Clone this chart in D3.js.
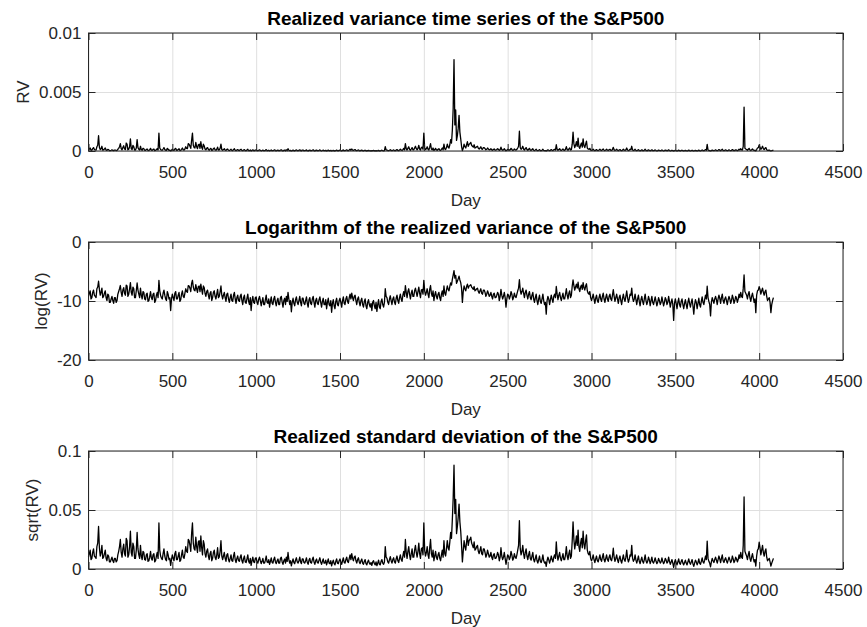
<!DOCTYPE html>
<html>
<head>
<meta charset="utf-8">
<script src="https://cdn.jsdelivr.net/npm/d3@7"></script>
<style>
  body { margin: 0; background: #fff; }
  svg { display: block; font-family: "Liberation Sans", Arial, sans-serif; }
</style>
</head>
<body>
<svg id="chart" width="867" height="627"></svg>
<script>
// sqrt(RV) of the S&P500, in thousandths.
// sdXXXX: readings on days 0, 10, 20, ... ; midXXXX: readings on days 5, 15, 25, ...
const sd0000 = [10,16,9,17,10,19,36,11,20,10, 16,7,11,6,10,5.5,9,7,15,25, 10,21,11,24,12,32,11,19,9,31, 12,20,8,14,7.5,13,7,15,7.5,13, 7,14,39,11,8,17,8,15,8,3];
const sd0500 = [12,7,15,8,14,7.5,16,9,19,14, 24,15,39,17,27,14,24,28,12,21, 10,17,8,15,9,16,8,18,10,24, 8,14,6.5,13,6,12,6.5,14,5.5,11, 6.5,12,5,11,5.5,12,5,3,10,5.5];
const sd1000 = [9.5,5,10,4.5,9,5,11,5.5,4,9.5, 5,10,4.5,8.5,5,10,4,8.5,10,14, 5,2.7,8.5,4.5,9.5,5,10,4.5,8.5,5, 9.5,4,9,5,10,4,8.5,5,9.5,4, 8.5,5,3.5,8.5,4.5,2.6,7.5,3.5,8.5,4.5];
const sd1500 = [8.5,4,9.5,5,10,5.5,12,13,7,11, 5,9.5,4.5,8.5,4,8,3.5,7.5,4,3, 7,3.5,2.8,7.5,3.5,8,4,19,9,5, 10.5,5,9.5,5,11,5.5,12,6.5,15,25, 9,19,8,17,10,20,10,22,9,18];
const sd2000 = [39,11,19,9,25,10,7,15,8,14, 7,16,24,11,24,16,31,42,88,59, 36,55,32,6,24,16,28,24,27,20, 23,17,20,13,19,12,17,10,16,10, 14,8,13,9,14,7,18,8,14,4];
const sd2500 = [12,8,15,7.5,13,9,16,41,12,20, 9,17,8,15,7.5,14,6,12,5,11, 5.5,12,5,2.2,10,5,11,6,12,23, 7.5,14,7,13,8,19,8,16,11,40, 17,28,33,15,26,32,17,29,13,15];
const sd3000 = [7,12,5.5,11,6,12,6.5,13,6,12, 6.5,12,7,17.6,6.5,12,5.5,11,5,12, 6.5,16,6,12,20,6.5,12,5,11,4.5, 10,5,12,5,10,4.5,10,5,9.5,4.5, 9,5,9.5,4.5,9,5,10,4,8,1.3];
const sd3500 = [8,3.5,8.5,4,8,3.5,7.5,3.5,8.5,4, 8,2.2,7.5,3.5,8.5,4,9.5,5,11,23.6, 6.5,1.9,9,5.5,10,5,11,5.5,12,5.5, 9.5,5,10,5.5,11,5.5,10,6,12,14, 9,61,13,8,15,6.5,13,6,2.5,16];
const sd4000 = [22.7,12,20,11,17,7,9,2.5,7];

const mid0000 = [13,8,14,11,9,22,18,14,9,13, 9,12,6,8,7,9,6,12,19,14, 17,13,26,10,19,14,22,9,16,17, 9,11,15,8,12,6.5,10,9,12,6, 11,9,16,9,13,11,7,12,9,8];
const mid0500 = [9,13,8,11,6.5,12,10,13,15,25, 20,30,22,16,19,23,15,18,24,13, 15,11,13,7,14,10,12,9,15,11, 11,9,12,8,9,7,11,8,9,7, 10,7,9,6,8.5,6.5,9,7,6,9];
const mid1000 = [6,8,7,6.5,5,7.5,6,8,6.5,5.5, 8,6,7,5,9,6,7,5,6.5,8, 7,6,5.5,7.5,6,7,6,8.5,5.5,7, 5.5,7.5,5.5,8,6,7,5.5,7.5,6,6.5, 5,7.5,6,5,7,5.5,4.5,6.5,5,7];
const mid1500 = [6,7,5.5,8,6.5,9,8,9,10,7, 8,6,7,5,6.5,4.5,6,5,5.5,6, 4.5,6,5,4,6.5,5,6,10,6,8, 7,8,6,8.5,7,9,8,11,10,14, 15,12,13,10,16,14,15,13,17,12];
const mid2000 = [16,14,12,18,13,16,11,10,12,9, 12,10,13,17,18,23,26,60,47,30, 44,40,20,15,19,23,20,25,22,18, 16,19,15,16,13,17,14,12,13,11, 10,12,9,11,12,10,11,10,9,8];
const mid2500 = [11,10,12,9,10,12,20,17,15,13, 14,11,12,9,11,8,9,7,8,6.5, 8,7,6,7,8,7.5,8,10,9,12, 11,9,10,8,12,11,13,9,24,25, 22,20,19,22,18,21,24,16,12,9];
const mid3000 = [9,8,8.5,7,9,8,10,8,9,8, 10,8,11,10,9,8,9,7,8.5,8, 10,9,8,11,9,8,7.5,8,6.5,7.5, 6.5,8,7,6.5,7.5,7,6,7,6.5,6, 7,6,6.5,6,7.5,6,6.5,6,5,5.5];
const mid3500 = [5.5,6,5,6.5,5,5.5,5,6,5.5,6, 4.5,5,6,5.5,5,6.5,6,7.5,8,9, 5,6,7,8,7.5,8,8.5,9,7,8, 7,7.5,8,7,8.5,7,8.5,8,9,10, 20,15,11,12,9,10,9,8,11,17];
const mid4000 = [18,16,14,15,10,8,6,5,9];

const xTicks = [0,500,1000,1500,2000,2500,3000,3500,4000,4500];
const titles = ["Realized variance time series of the S&P500",
                "Logarithm of the realized variance of the S&P500",
                "Realized standard deviation of the S&P500"];
const yLabels = ["RV", "log(RV)", "sqrt(RV)"];
const yTicksRV = [0, 0.005, 0.01];
const yTicksLog = [-20, -10, 0];
const yTicksSd = [0, 0.05, 0.1];

const sdMain = [].concat(sd0000, sd0500, sd1000, sd1500, sd2000, sd2500, sd3000, sd3500, sd4000);
const sdMid = [].concat(mid0000, mid0500, mid1000, mid1500, mid2000, mid2500, mid3000, mid3500, mid4000);
const data = [];
sdMain.forEach((v, i) => {
  data.push({ day: i * 10, sd: v / 1000 });
  if (i < sdMid.length) data.push({ day: i * 10 + 5, sd: sdMid[i] / 1000 });
});

// the three panels show the same series: RV, log(RV) and sqrt(RV)
const panels = [
  { domain: [0, 0.01], ticks: yTicksRV, val: d => d.sd * d.sd },
  { domain: [-20, 0], ticks: yTicksLog, val: d => Math.log(d.sd * d.sd) },
  { domain: [0, 0.1], ticks: yTicksSd, val: d => d.sd }
];

const left = 88.5, right = 843, h = 118;
const tops = [33, 242, 451];
const w = right - left;
const axisCol = "#262626";

const svg = d3.select("#chart");

panels.forEach((p, k) => {
  const g = svg.append("g").attr("transform", "translate(" + left + "," + tops[k] + ")");
  const x = d3.scaleLinear().domain([0, 4500]).range([0, w]);
  const y = d3.scaleLinear().domain(p.domain).range([h, 0]);

  // grid
  g.append("g")
    .attr("transform", "translate(0," + h + ")")
    .call(d3.axisBottom(x).tickValues(xTicks).tickSize(-h).tickFormat(""))
    .call(s => s.select(".domain").remove())
    .selectAll("line").attr("stroke", "#dfdfdf");
  g.append("g")
    .call(d3.axisLeft(y).tickValues(p.ticks).tickSize(-w).tickFormat(""))
    .call(s => s.select(".domain").remove())
    .selectAll("line").attr("stroke", "#dfdfdf");

  // series
  const line = d3.line().x(d => x(d.day)).y(d => y(p.val(d)));
  g.append("path")
    .datum(data)
    .attr("d", line)
    .attr("fill", "none")
    .attr("stroke", "#000")
    .attr("stroke-width", 1.3)
    .attr("stroke-linejoin", "round");

  // box
  g.append("rect")
    .attr("width", w).attr("height", h)
    .attr("fill", "none").attr("stroke", axisCol).attr("stroke-width", 1);

  const styleAxis = s => {
    s.select(".domain").remove();
    s.selectAll("line").attr("stroke", axisCol);
    s.selectAll("text").attr("fill", axisCol).style("font-size", "17px")
      .style("font-family", '"Liberation Sans", Arial, sans-serif');
  };

  g.append("g")
    .attr("transform", "translate(0," + h + ")")
    .call(d3.axisBottom(x).tickValues(xTicks).tickSize(-7).tickPadding(15).tickFormat(d => String(d)))
    .call(styleAxis);
  g.append("g")
    .call(d3.axisTop(x).tickValues(xTicks).tickSize(-7).tickFormat(""))
    .call(styleAxis);
  const yAx = g.append("g")
    .call(d3.axisLeft(y).tickValues(p.ticks).tickSize(-7).tickPadding(7).tickFormat(d => String(d)))
    .call(styleAxis);
  g.append("g")
    .attr("transform", "translate(" + w + ",0)")
    .call(d3.axisRight(y).tickValues(p.ticks).tickSize(-7).tickFormat(""))
    .call(styleAxis);

  // labels
  g.append("text")
    .attr("x", w / 2).attr("y", -8)
    .attr("text-anchor", "middle")
    .attr("fill", "#000")
    .style("font-size", "19px").style("font-weight", "bold")
    .text(titles[k]);

  g.append("text")
    .attr("x", w / 2).attr("y", h + 55)
    .attr("text-anchor", "middle")
    .attr("fill", axisCol)
    .style("font-size", "17px")
    .text("Day");

  const minX = d3.min(yAx.selectAll("text").nodes(), n => n.getBBox().x);
  g.append("text")
    .attr("transform", "translate(" + (minX - 10) + "," + (h / 2) + ") rotate(-90)")
    .attr("text-anchor", "middle")
    .attr("fill", axisCol)
    .style("font-size", "17px")
    .text(yLabels[k]);
});
</script>
</body>
</html>
